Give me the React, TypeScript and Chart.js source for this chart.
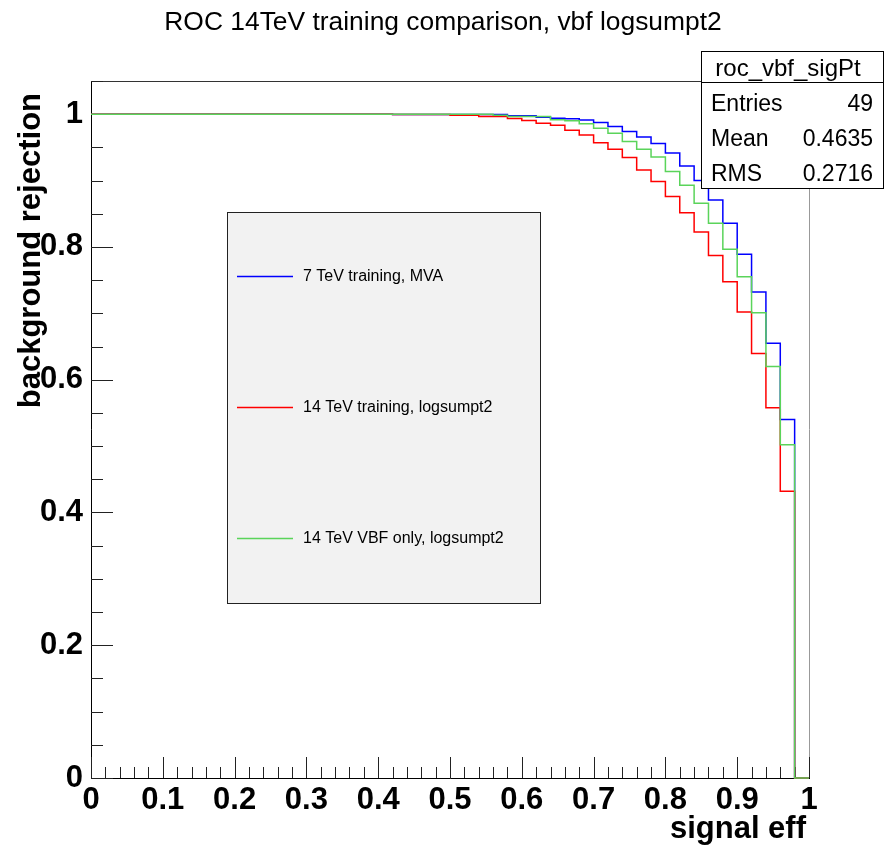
import { useEffect, useRef } from "react";
import { Chart, registerables } from "chart.js";

Chart.register(...registerables);

// Histogram binning: 50 bins of width 0.02 on signal efficiency [0, 1]
const nBins = 50;
const binWidth = 0.02;
const binLowEdges = Array.from({ length: nBins }, (_, i) => i * binWidth);

// background rejection per bin
const rej7TeVMVA = [
  1, 1, 1, 1, 1, 1, 1, 1, 1, 1,
  1, 1, 1, 1, 1, 1, 1, 1, 1, 1,
  1, 0.9995, 0.9995, 0.9995, 0.9995, 0.9995, 0.9995, 0.9995, 0.9995, 0.9975,
  0.9975, 0.9955, 0.994, 0.993, 0.9914, 0.9875, 0.9815, 0.974, 0.9658, 0.9558,
  0.9416, 0.922, 0.9, 0.8707, 0.8356, 0.789, 0.732, 0.655, 0.54, 0,
];
const rej14TeVLogsumpt2 = [
  1, 1, 1, 1, 1, 1, 1, 1, 1, 1,
  1, 1, 1, 1, 1, 1, 1, 1, 1, 1,
  1, 0.9995, 0.9995, 0.9995, 0.9995, 0.9985, 0.9985, 0.9965, 0.9965, 0.9935,
  0.9905, 0.9864, 0.9834, 0.9759, 0.9688, 0.957, 0.947, 0.9347, 0.916, 0.8985,
  0.876, 0.8517, 0.8225, 0.7873, 0.7477, 0.702, 0.6395, 0.5576, 0.4318, 0,
];
const rej14TeVVBFOnly = [
  1, 1, 1, 1, 1, 1, 1, 1, 1, 1,
  1, 1, 1, 1, 1, 1, 1, 1, 1, 1,
  1, 1, 1, 1, 1, 1, 1, 1, 0.9985, 0.9965,
  0.9965, 0.9965, 0.9915, 0.99, 0.9857, 0.9789, 0.9713, 0.9588, 0.9472, 0.9356,
  0.9136, 0.893, 0.866, 0.8356, 0.7964, 0.7552, 0.701, 0.62, 0.502, 0,
];

const seriesLabels = [
  "7 TeV training, MVA",
  "14 TeV training, logsumpt2",
  "14 TeV VBF only, logsumpt2",
];
const seriesColors = ["#0000ff", "#ff0000", "#5ad45a"];

const titleText = "ROC 14TeV training comparison, vbf logsumpt2";
const xTitle = "signal eff";
const yTitle = "background rejection";
const statsName = "roc_vbf_sigPt";
const statsRows = [
  ["Entries", "49"],
  ["Mean", "0.4635"],
  ["RMS", "0.2716"],
];

const xTickValues = [0, 0.1, 0.2, 0.3, 0.4, 0.5, 0.6, 0.7, 0.8, 0.9, 1];
const yTickValues = [0, 0.2, 0.4, 0.6, 0.8, 1];
const xMajorStep = 0.1;
const xMinorStep = 0.02;
const yMajorStep = 0.2;
const yMinorStep = 0.05;
const yMax = 1.05;

const FONT = '"Liberation Sans", Arial, Helvetica, sans-serif';

function toHist(values: number[]) {
  const pts = binLowEdges.map((x, i) => ({ x, y: values[i] }));
  pts.push({ x: 1, y: values[values.length - 1] });
  return pts;
}

const rootPlugin = {
  id: "rootDecor",
  beforeDatasetsDraw(chart: any) {
    const { ctx, chartArea: a, scales } = chart;
    const xs = scales.x;
    const ys = scales.y;
    ctx.save();
    ctx.lineWidth = 1;
    // frame top / right
    ctx.strokeStyle = "#333";
    ctx.beginPath();
    ctx.moveTo(a.left, a.top + 0.5);
    ctx.lineTo(a.right, a.top + 0.5);
    ctx.stroke();
    ctx.strokeStyle = "#999";
    ctx.beginPath();
    ctx.moveTo(a.right + 0.5, a.top);
    ctx.lineTo(a.right + 0.5, a.bottom);
    ctx.stroke();
    // axes
    ctx.strokeStyle = "#000";
    ctx.beginPath();
    ctx.moveTo(a.left + 0.5, a.top);
    ctx.lineTo(a.left + 0.5, a.bottom + 0.5);
    ctx.lineTo(a.right + 1, a.bottom + 0.5);
    ctx.stroke();
    // x ticks
    ctx.strokeStyle = "#222";
    const nx = Math.round(1 / xMinorStep);
    const perMajorX = Math.round(xMajorStep / xMinorStep);
    for (let i = 0; i <= nx; i++) {
      const px = Math.round(xs.getPixelForValue(i * xMinorStep)) + 0.5;
      const len = i % perMajorX === 0 ? 21 : 11;
      ctx.beginPath();
      ctx.moveTo(px, a.bottom);
      ctx.lineTo(px, a.bottom - len);
      ctx.stroke();
    }
    // y ticks
    const ny = Math.floor(yMax / yMinorStep + 1e-6);
    const perMajorY = Math.round(yMajorStep / yMinorStep);
    for (let i = 0; i <= ny; i++) {
      const py = Math.round(ys.getPixelForValue(i * yMinorStep)) + 0.5;
      const len = i % perMajorY === 0 ? 22 : 12;
      ctx.beginPath();
      ctx.moveTo(a.left, py);
      ctx.lineTo(a.left + len, py);
      ctx.stroke();
    }
    ctx.restore();
  },
  afterDraw(chart: any) {
    const { ctx, chartArea: a } = chart;
    ctx.save();
    ctx.fillStyle = "#000";
    // title
    ctx.font = `26.4px ${FONT}`;
    ctx.textAlign = "center";
    ctx.textBaseline = "alphabetic";
    ctx.fillText(titleText, 443, 30);
    // axis titles
    ctx.font = `bold 31px ${FONT}`;
    ctx.textAlign = "right";
    ctx.fillText(xTitle, a.right - 3, 838);
    ctx.save();
    ctx.translate(40, a.top + 12);
    ctx.rotate(-Math.PI / 2);
    ctx.textAlign = "right";
    ctx.fillText(yTitle, 0, 0);
    ctx.restore();

    // legend box
    const lx = 227, ly = 212, lw = 313, lh = 391;
    ctx.fillStyle = "#f2f2f2";
    ctx.fillRect(lx, ly, lw, lh);
    ctx.strokeStyle = "#222";
    ctx.lineWidth = 1;
    ctx.strokeRect(lx + 0.5, ly + 0.5, lw, lh);
    const entryY = [276, 407, 538];
    ctx.font = `16px ${FONT}`;
    ctx.textAlign = "left";
    ctx.textBaseline = "middle";
    seriesLabels.forEach((lab, i) => {
      ctx.strokeStyle = seriesColors[i];
      ctx.lineWidth = 1.5;
      ctx.beginPath();
      ctx.moveTo(237, entryY[i] + 0.5);
      ctx.lineTo(293, entryY[i] + 0.5);
      ctx.stroke();
      ctx.fillStyle = "#000";
      ctx.fillText(lab, 303, entryY[i] + 1);
    });

    // stats box
    const sx = 701, sy = 51, sw = 182, sh = 137;
    ctx.fillStyle = "#fff";
    ctx.fillRect(sx, sy, sw, sh);
    ctx.strokeStyle = "#000";
    ctx.lineWidth = 1;
    ctx.strokeRect(sx + 0.5, sy + 0.5, sw, sh);
    ctx.beginPath();
    ctx.moveTo(sx, 82.5);
    ctx.lineTo(sx + sw, 82.5);
    ctx.stroke();
    ctx.fillStyle = "#000";
    ctx.font = `24px ${FONT}`;
    ctx.textBaseline = "alphabetic";
    ctx.textAlign = "center";
    ctx.fillText(statsName, 788, 76);
    ctx.font = `23px ${FONT}`;
    const rowY = [111, 146, 181];
    statsRows.forEach((r, i) => {
      ctx.textAlign = "left";
      ctx.fillText(r[0], 711, rowY[i]);
      ctx.textAlign = "right";
      ctx.fillText(r[1], 873, rowY[i]);
    });
    ctx.restore();
  },
};

function fmt(v: number) {
  return String(Number(v.toFixed(2)));
}

export default function App() {
  const ref = useRef<HTMLCanvasElement | null>(null);
  useEffect(() => {
    document.body.style.margin = "0";
    const canvas = ref.current;
    if (!canvas) return;
    const series = [rej7TeVMVA, rej14TeVLogsumpt2, rej14TeVVBFOnly];
    const chart = new Chart(canvas, {
      type: "line",
      data: {
        datasets: series.map((vals, i) => ({
          label: seriesLabels[i],
          data: toHist(vals),
          borderColor: seriesColors[i],
          borderWidth: 1.5,
          pointRadius: 0,
          fill: false,
          stepped: true,
          clip: false,
          order: 3 - i,
        })),
      },
      options: {
        animation: false,
        responsive: false,
        devicePixelRatio: 1,
        parsing: false,
        layout: { padding: { top: 81, right: 77, left: 0, bottom: 0 } },
        plugins: {
          legend: { display: false },
          title: { display: false },
          tooltip: { enabled: false },
        },
        scales: {
          x: {
            type: "linear",
            min: 0,
            max: 1,
            grid: { display: false, drawTicks: false },
            border: { display: false },
            afterBuildTicks: (s: any) => {
              s.ticks = xTickValues.map((v) => ({ value: v }));
            },
            ticks: {
              autoSkip: false,
              maxRotation: 0,
              padding: 4,
              color: "#000",
              font: { family: FONT, size: 31, weight: "bold" },
              callback: (v: any) => fmt(Number(v)),
            },
            afterFit: (s: any) => {
              s.height = 73;
            },
          },
          y: {
            type: "linear",
            min: 0,
            max: yMax,
            grid: { display: false, drawTicks: false },
            border: { display: false },
            afterBuildTicks: (s: any) => {
              s.ticks = yTickValues.map((v) => ({ value: v }));
            },
            ticks: {
              autoSkip: false,
              padding: 8,
              color: "#000",
              font: { family: FONT, size: 31, weight: "bold" },
              callback: (v: any) => fmt(Number(v)),
            },
            afterFit: (s: any) => {
              s.width = 91;
            },
          },
        },
      },
      plugins: [rootPlugin],
    } as any);
    return () => chart.destroy();
  }, []);
  return (
    <div style={{ width: 886, height: 851 }}>
      <canvas ref={ref} width={886} height={851} style={{ display: "block" }} />
    </div>
  );
}
